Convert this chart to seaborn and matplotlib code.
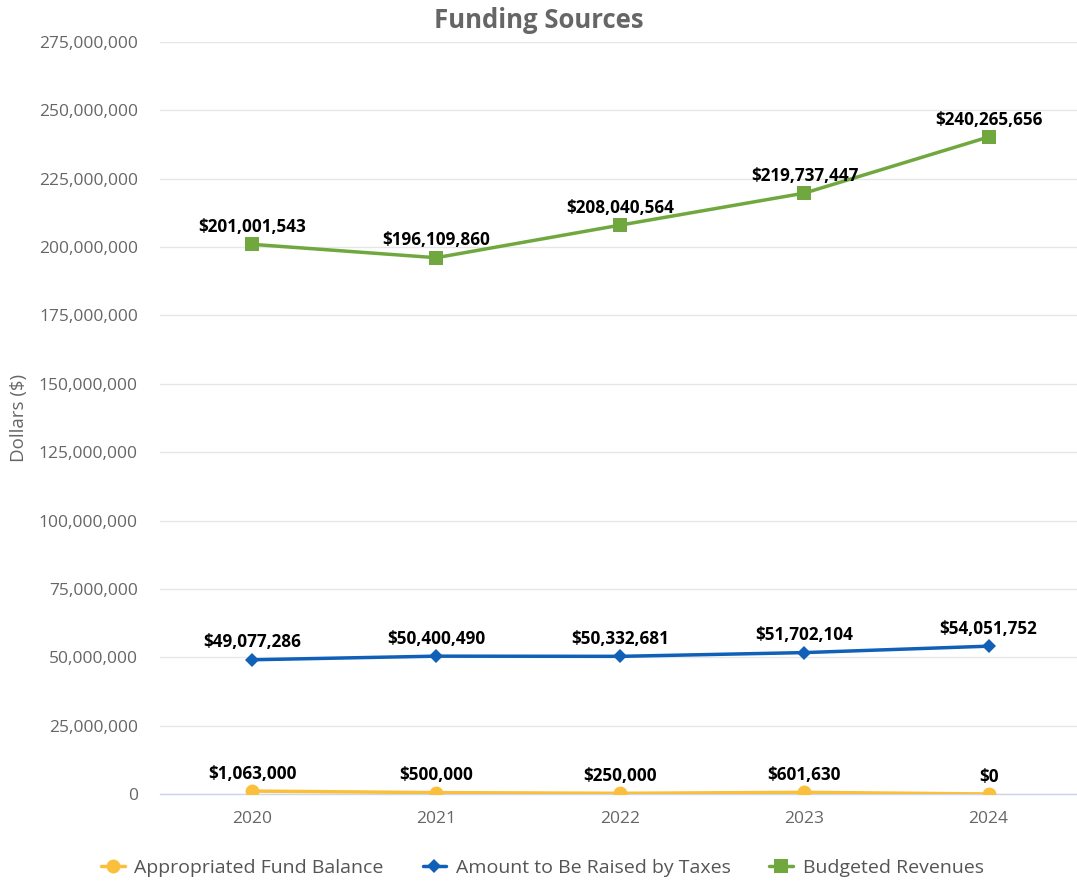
import matplotlib
matplotlib.use("Agg")
import matplotlib.pyplot as plt
import matplotlib.ticker as mticker
import seaborn as sns
import pandas as pd

years = ["2020", "2021", "2022", "2023", "2024"]
fund_balance = [1063000, 500000, 250000, 601630, 0]
raised_by_taxes = [49077286, 50400490, 50332681, 51702104, 54051752]
budgeted_revenues = [201001543, 196109860, 208040564, 219737447, 240265656]
series_names = ["Appropriated Fund Balance", "Amount to Be Raised by Taxes", "Budgeted Revenues"]

colors = ["#fbc03b", "#1060b8", "#70a83f"]
markers = ["o", "D", "s"]
marker_sizes = [10, 7, 10]

sns.set_theme(style="white")
plt.rcParams["font.family"] = ["Open Sans", "DejaVu Sans"]

frames = []
for name, vals in zip(series_names, [fund_balance, raised_by_taxes, budgeted_revenues]):
    frames.append(pd.DataFrame({"Year": years, "Value": vals, "Series": name}))
df = pd.concat(frames, ignore_index=True)

fig = plt.figure(figsize=(10.77, 8.82), dpi=100)
ax = fig.add_axes([0.1486, 0.0998, 0.8514, 0.8526])

for name, col, mk, ms in zip(series_names, colors, markers, marker_sizes):
    sub = df[df["Series"] == name]
    sns.lineplot(data=sub, x="Year", y="Value", ax=ax, color=col, linewidth=2.5,
                 marker=mk, markersize=ms, markeredgewidth=0, label=name, zorder=3)
    for xi, v in enumerate(sub["Value"]):
        ax.annotate(f"${v:,.0f}", (xi, v), xytext=(0, 6), textcoords="offset points",
                    ha="center", va="bottom", fontsize=12.3, fontweight="bold",
                    color="#000000", zorder=4)

ax.set_xlim(-0.5, 4.48)
ax.set_ylim(0, 275000000)
ax.yaxis.set_major_locator(mticker.MultipleLocator(25000000))
ax.yaxis.set_major_formatter(mticker.FuncFormatter(lambda v, p: f"{v:,.0f}"))
ax.grid(axis="y", color="#e6e6e6", linewidth=1)
ax.set_axisbelow(True)
for s in ["top", "right", "left"]:
    ax.spines[s].set_visible(False)
ax.spines["bottom"].set_color("#ccd6eb")
ax.spines["bottom"].set_linewidth(1)
ax.tick_params(axis="both", length=0, labelsize=12.5, colors="#666666")
ax.tick_params(axis="y", pad=16)
ax.tick_params(axis="x", pad=12)
ax.set_xlabel("")
ax.set_ylabel("Dollars ($)", fontsize=13.5, color="#666666")
ax.yaxis.set_label_coords(-0.144, 0.5)

fig.text(0.5, 0.977, "Funding Sources", ha="center", va="center",
         fontsize=18.5, fontweight="bold", color="#666666")

handles, labels = ax.get_legend_handles_labels()
ax.legend(handles, labels, loc="center", bbox_to_anchor=(0.417, -0.098),
          ncol=3, frameon=False, fontsize=14, labelcolor="#555555",
          handlelength=1.2, columnspacing=2.0, handletextpad=0.5)

fig.savefig("out.png", dpi=100, facecolor="white")
